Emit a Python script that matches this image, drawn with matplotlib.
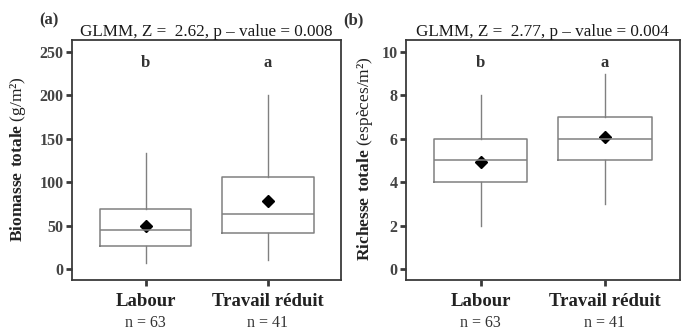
import matplotlib.pyplot as plt

plt.rcParams['font.family'] = ['Liberation Serif', 'DejaVu Serif']
plt.rcParams['mathtext.fontset'] = 'custom'
plt.rcParams['mathtext.rm'] = 'Liberation Serif'
plt.rcParams['mathtext.bf'] = 'Liberation Serif:bold'

categories = ["Labour", "Travail réduit"]
n_counts = [63, 41]
letters = ["b", "a"]

# biomasse totale (g/m2)
bio_low = [7, 10]
bio_q1 = [26, 42]
bio_med = [45, 63]
bio_q3 = [69, 106]
bio_high = [134, 200]
bio_mean = [50, 78]

# richesse totale (especes/m2)
ric_low = [2, 3]
ric_q1 = [4, 5]
ric_med = [5, 6]
ric_q3 = [6, 7]
ric_high = [8, 9]
ric_mean = [4.95, 6.1]

titles = ["GLMM, Z =  2.62, p \u2013 value = 0.008", "GLMM, Z =  2.77, p \u2013 value = 0.004"]
ylabels = [r"$\mathbf{Biomasse\ totale}$ (g/m²)", r"$\mathbf{Richesse\ totale}$ (espèces/m²)"]
panel_tags = ["(a)", "(b)"]

frame_col = "#3a3a3a"
box_col = "#808080"

fig = plt.figure(figsize=(6.81, 3.31), dpi=100)
ax1 = fig.add_axes([0.106, 0.154, 0.395, 0.725])
ax2 = fig.add_axes([0.596, 0.154, 0.402, 0.725])


def draw_panel(ax, low, q1, med, q3, high, mean, ylim, yticks, title, ylabel, tag, lab_x, tag_x):
    stats = []
    for i in range(len(categories)):
        stats.append(dict(whislo=low[i], q1=q1[i], med=med[i], q3=q3[i], whishi=high[i], fliers=[]))
    ax.bxp(stats, positions=[1, 2], widths=0.75, showcaps=False,
           boxprops=dict(color=box_col, linewidth=1.1),
           medianprops=dict(color=box_col, linewidth=1.1),
           whiskerprops=dict(color=box_col, linewidth=1.0))
    ax.plot([1, 2], mean, linestyle="none", marker="D", color="black", markersize=6.5)
    ax.set_xlim(0.4, 2.6)
    ax.set_ylim(*ylim)
    ax.set_yticks(yticks)
    ax.set_xticks([1, 2])
    ax.set_xticklabels(categories, fontweight="bold", fontsize=13.5, color="#222222")
    for sp in ax.spines.values():
        sp.set_color(frame_col)
        sp.set_linewidth(1.3)
    ax.tick_params(axis="both", direction="out", length=4.5, width=2, color=frame_col)
    ax.tick_params(axis="y", labelsize=11.5, labelcolor="#444444", pad=1.5)
    for lbl in ax.get_yticklabels():
        lbl.set_fontweight("bold")
    ax.tick_params(axis="x", pad=5)
    for i, n in enumerate(n_counts):
        ax.text(i + 1, -0.145, f"n = {n}", transform=ax.get_xaxis_transform(),
                ha="center", va="top", fontsize=11.5, color="#333333")
        ax.text(i + 1, 0.905, letters[i], transform=ax.get_xaxis_transform(),
                ha="center", va="center", fontsize=12, fontweight="bold", color="#333333")
    ax.set_title(title, fontsize=12.3, pad=1, color="#1a1a1a")
    fig.text(lab_x, 0.52, ylabel, rotation=90, ha="center", va="center", fontsize=12.5, color="#222222")
    fig.text(tag_x, 0.937, tag, ha="left", va="center", fontsize=12, fontweight="bold", color="#333333")


draw_panel(ax1, bio_low, bio_q1, bio_med, bio_q3, bio_high, bio_mean,
           (-12.7, 263.5), [0, 50, 100, 150, 200, 250], titles[0], ylabels[0], panel_tags[0], 0.027, 0.057)
draw_panel(ax2, ric_low, ric_q1, ric_med, ric_q3, ric_high, ric_mean,
           (-0.51, 10.55), [0, 2, 4, 6, 8, 10], titles[1], ylabels[1], panel_tags[1], 0.536, 0.504)

fig.savefig("out.png", dpi=100)
